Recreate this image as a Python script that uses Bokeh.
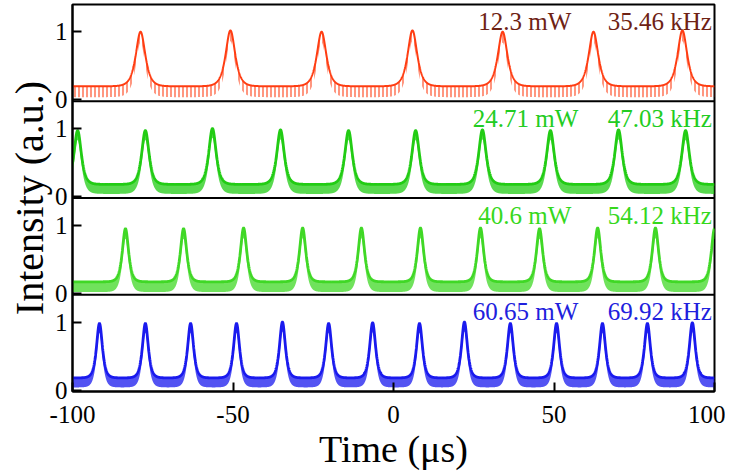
import numpy as np
from bokeh.plotting import figure
from bokeh.models import Range1d, FixedTicker, Span
from bokeh.embed import file_html
from bokeh.resources import INLINE
from bokeh.core.properties import value

# ---------------- data ----------------
powers_mw = [12.3, 24.71, 40.6, 60.65]
rep_rates_khz = [35.46, 47.03, 54.12, 69.92]

peaks_1 = [-78.8, -50.8, -22.4, 5.9, 34.0, 62.3, 90.0]
heights_1 = [1.0, 1.02, 1.0, 1.02, 1.0, 1.0, 1.02]
peaks_2 = [-98.4, -77.3, -56.4, -35.2, -14.0, 6.9, 27.7, 48.9, 70.1, 91.0]
heights_2 = [0.97, 0.97, 1.0, 0.98, 0.97, 0.97, 0.98, 0.97, 0.98, 0.97]
peaks_3 = [-83.5, -65.4, -46.7, -28.3, -10.0, 8.4, 27.1, 45.5, 63.6, 81.6, 100.0]
heights_3 = [0.95, 0.95, 0.96, 0.96, 0.96, 0.96, 0.96, 0.95, 0.96, 0.96, 0.95]
peaks_4 = [-91.6, -77.3, -63.2, -48.9, -34.6, -20.2, -6.5, 8.1, 22.1, 36.4,
           50.8, 65.1, 79.1, 93.1]
heights_4 = [0.98, 0.98, 0.98, 0.98, 1.0, 0.98, 0.99, 0.98, 1.0, 0.98,
             0.98, 0.98, 0.98, 0.99]

baselines = [0.2, 0.18, 0.17, 0.18]
noise_depths = [0.16, 0.14, 0.15, 0.14]
pulse_widths = [1.3, 1.0, 0.85, 0.8]   # sech time constants (µs)

time_ticks = [-100, -50, 0, 50, 100]
time_tick_labels = ["-100", "-50", "0", "50", "100"]
intensity_ticks = [0, 1]

# ---------------- styling ----------------
line_colors = ["#ff3d12", "#22cc14", "#40d826", "#1a1aee"]
text_colors = ["#6e2214", "#22cc22", "#36d81c", "#2020dd"]
FONT = "Liberation Serif"
H = 1.42      # data height of one panel
LOW = 0.02    # space below zero in each panel

p = figure(width=725, height=472, output_backend="svg", toolbar_location=None,
           x_range=Range1d(-100, 100), y_range=Range1d(0, 4 * H),
           min_border_left=72, min_border_right=11, min_border_top=4,
           min_border_bottom=76)
p.xgrid.visible = False
p.ygrid.visible = False
p.outline_line_color = "black"
p.outline_line_width = 2
p.outline_line_alpha = 1

t = np.linspace(-100, 100, 4001)
panels = [(peaks_1, heights_1), (peaks_2, heights_2),
          (peaks_3, heights_3), (peaks_4, heights_4)]

ytick_pos = []
ytick_over = {}
for k, (pk, hk) in enumerate(panels):
    off = round((3 - k) * H + LOW, 4)
    base = baselines[k]
    tau = pulse_widths[k]
    y = np.full_like(t, base)
    for tp, h in zip(pk, hk):
        y += (h - base) / np.cosh((t - tp) / tau)
    upper = y + off
    lower = y - noise_depths[k] + off
    if k == 0:
        p.varea(x=t, y1=lower, y2=upper, fill_alpha=0.0,
                hatch_pattern="vertical_line", hatch_color=line_colors[k],
                hatch_scale=4, hatch_weight=1.2, hatch_alpha=0.9)
        p.line(t, upper, line_color=line_colors[k], line_width=2)
    else:
        p.varea(x=t, y1=lower, y2=upper, fill_color=line_colors[k], fill_alpha=0.75)
        p.line(t, upper, line_color=line_colors[k], line_width=2.8)
    for v in intensity_ticks:
        pos = round(off + v, 4)
        ytick_pos.append(pos)
        ytick_over[pos] = str(v)
    p.text(x=[55.4 if k in (0, 2) else 57.6], y=[off + 1.15],
           text=[f"{powers_mw[k]} mW"], text_align="right", text_baseline="middle",
           text_font=value(FONT), text_font_size="25px", text_color=text_colors[k])
    p.text(x=[99.2], y=[off + 1.15],
           text=[f"{rep_rates_khz[k]} kHz"], text_align="right", text_baseline="middle",
           text_font=value(FONT), text_font_size="25px", text_color=text_colors[k])

for k in range(1, 4):
    p.add_layout(Span(location=k * H, dimension="width", line_color="black",
                      line_width=2))

# axes
p.xaxis.ticker = FixedTicker(ticks=time_ticks)
p.xaxis.major_label_overrides = dict(zip(time_ticks, time_tick_labels))
p.yaxis.ticker = FixedTicker(ticks=ytick_pos)
p.yaxis.major_label_overrides = ytick_over
for ax in (p.xaxis[0], p.yaxis[0]):
    ax.axis_line_width = 2
    ax.axis_line_color = "black"
    ax.major_tick_line_width = 2
    ax.major_tick_line_color = "black"
    ax.major_tick_in = 9
    ax.major_tick_out = 0
    ax.minor_tick_in = 0
    ax.minor_tick_out = 0
    ax.major_label_text_font = FONT
    ax.major_label_text_font_size = "25px"
    ax.major_label_text_color = "black"
    ax.axis_label_text_font = FONT
    ax.axis_label_text_font_style = "normal"
    ax.axis_label_text_color = "black"
p.xaxis.axis_label_text_font_size = "38px"
p.yaxis.axis_label_text_font_size = "40px"
p.xaxis.axis_label = "Time (μs)"
p.yaxis.axis_label = "Intensity (a.u.)"
p.xaxis.major_label_standoff = 14
p.xaxis.axis_label_standoff = 2
p.yaxis.major_label_standoff = 5
p.yaxis.axis_label_standoff = 0

open("out.html", "w").write(file_html(p, INLINE))
